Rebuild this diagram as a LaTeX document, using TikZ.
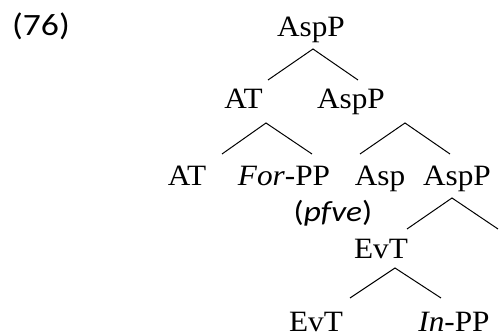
\documentclass[tikz,border=0pt]{standalone}
\usepackage{fontspec}
\setmainfont[FakeStretch=1.06]{Liberation Serif}
\newfontfamily\labfont[FakeStretch=1.15]{Carlito}
\begin{document}
\begin{tikzpicture}[x=1pt,y=-1pt,
  lab/.style={anchor=base,inner sep=0pt,text depth=0pt,font=\fontsize{29.5}{34}\selectfont},
  numlab/.style={anchor=base,inner sep=0pt,font=\labfont\fontsize{31}{36}\selectfont},
  sublab/.style={anchor=base,inner sep=0pt,font=\labfont\fontsize{29}{34}\selectfont},
  branch/.style={line width=1pt}]
\useasboundingbox (0,0) rectangle (499,336);
% labels
\node[numlab] (ex) at (41,36) {(76)};
\node[lab] (r) at (311,37) {AspP};
\node[lab] (at1) at (243.5,109) {AT};
\node[lab] (asp1) at (351,109) {AspP};
\node[lab] (at2) at (187,186) {AT};
\node[lab] (forpp) at (284,186) {\textit{For}-PP};
\node[lab] (asp) at (380,186) {Asp};
\node[lab] (asp2) at (457,186) {AspP};
\node[sublab] (pfve) at (333,222) {(\textit{pfve})};
\node[lab] (evt1) at (381,259) {EvT};
\node[lab] (evt2) at (316,331.5) {EvT};
\node[lab] (inpp) at (454,331.5) {\textit{In}-PP};
% branch points
\coordinate (rA) at (313,49);
\coordinate (rL) at (268,80);
\coordinate (rR) at (358,80);
\coordinate (atA) at (266,123);
\coordinate (atL) at (222,154);
\coordinate (atR) at (312,154);
\coordinate (a1A) at (405,123);
\coordinate (a1L) at (360,154);
\coordinate (a1R) at (450,154);
\coordinate (a2A) at (452,198);
\coordinate (a2L) at (407,229);
\coordinate (a2R) at (498,229);
\coordinate (eA) at (395,268);
\coordinate (eL) at (350,298);
\coordinate (eR) at (441,298);
% branches
\draw[branch] (rL) -- (rA) -- (rR);
\draw[branch] (atL) -- (atA) -- (atR);
\draw[branch] (a1L) -- (a1A) -- (a1R);
\draw[branch] (a2L) -- (a2A) -- (a2R);
\draw[branch] (eL) -- (eA) -- (eR);
\end{tikzpicture}
\end{document}
